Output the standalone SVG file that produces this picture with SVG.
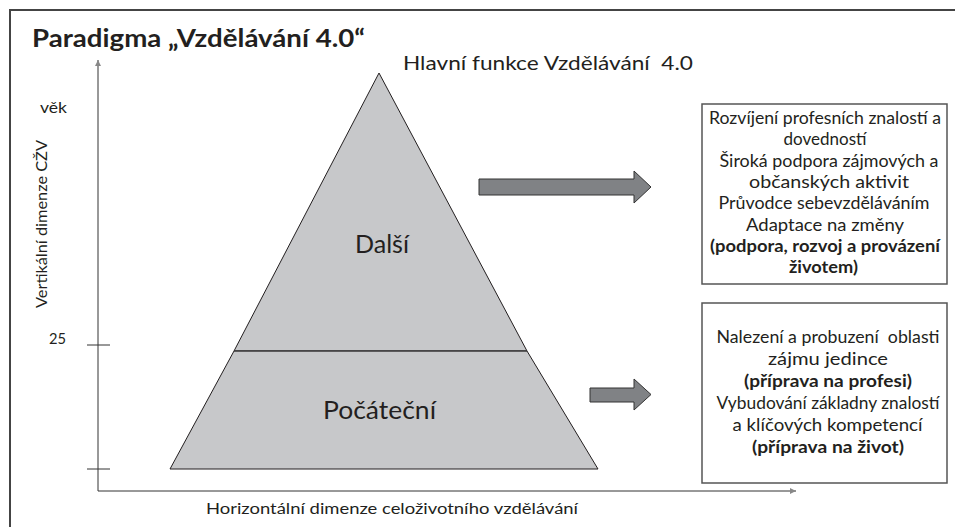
<svg xmlns="http://www.w3.org/2000/svg" width="955" height="527" viewBox="0 0 955 527">
<defs>
<style>
text{font-family:Lato,"Open Sans","Liberation Sans",sans-serif;fill:#231f20;white-space:pre}
.box{fill:#fff;stroke:#555;stroke-width:1.5}
.ax{stroke:#333;stroke-width:1;fill:none}
.arr{fill:#808285;stroke:#333;stroke-width:1}
.bt{font-size:16.5px;text-anchor:middle}
.b{font-weight:bold}
</style>
<marker id="ah" viewBox="0 0 10 10" refX="10" refY="5" markerWidth="8" markerHeight="6" orient="auto" markerUnits="userSpaceOnUse">
<path d="M0,0 L10,5 L0,10 z" fill="#888"/>
</marker>
</defs>
<rect width="955" height="527" fill="#fff"/>
<path d="M10,527 L10,10 L955,10" fill="none" stroke="#444" stroke-width="2"/>
<text x="32" y="47" font-size="24" font-weight="bold" textLength="333" lengthAdjust="spacingAndGlyphs">Paradigma „Vzdělávání 4.0“</text>
<text x="403" y="70" font-size="20" textLength="290" lengthAdjust="spacingAndGlyphs">Hlavní funkce Vzdělávání  4.0</text>

<g id="connectors">
<line class="ax" x1="98" y1="491" x2="98" y2="60" marker-end="url(#ah)"/>
<line class="ax" x1="98" y1="491" x2="796" y2="491" marker-end="url(#ah)"/>
<line class="ax" x1="87" y1="345" x2="110" y2="345"/>
<line class="ax" x1="87" y1="469" x2="110" y2="469"/>
<path class="arr" d="M479,179 L634,179 L634,171 L651,187 L634,203 L634,195 L479,195 z"/>
<path class="arr" d="M590,388 L634,388 L634,379 L651,394.5 L634,410 L634,402 L590,402 z"/>
</g>

<g id="axis-labels">
<text x="40" y="113" font-size="15.5" textLength="27" lengthAdjust="spacingAndGlyphs">věk</text>
<text x="49" y="344" font-size="15.5" textLength="17" lengthAdjust="spacingAndGlyphs">25</text>
<text transform="translate(46.5,224) rotate(-90)" x="-84" y="0" font-size="15.5" textLength="168" lengthAdjust="spacingAndGlyphs">Vertikální dimenze CŽV</text>
<text x="206" y="514" font-size="15.5" textLength="372" lengthAdjust="spacingAndGlyphs">Horizontální dimenze celoživotního vzdělávání</text>
</g>

<g id="pyramid-top">
<path d="M379,73 L527,351 L234,351 z" fill="#c7c8ca" stroke="#231f20" stroke-width="1"/>
<text x="355" y="253" font-size="25" textLength="54" lengthAdjust="spacingAndGlyphs">Další</text>
</g>
<g id="pyramid-bottom">
<path d="M234,351 L527,351 L598,469 L170,469 z" fill="#c7c8ca" stroke="#231f20" stroke-width="1"/>
<line x1="234" y1="351" x2="527" y2="351" stroke="#444" stroke-width="1"/>
<text x="323" y="419" font-size="25" textLength="113" lengthAdjust="spacingAndGlyphs">Počáteční</text>
</g>

<g id="box-upper">
<rect class="box" x="702" y="104" width="245" height="180"/>
<text class="bt" x="825" y="124" textLength="232" lengthAdjust="spacingAndGlyphs">Rozvíjení profesních znalostí a</text>
<text class="bt" x="825" y="145.3" textLength="83" lengthAdjust="spacingAndGlyphs">dovedností</text>
<text class="bt" x="829" y="166.6" textLength="219" lengthAdjust="spacingAndGlyphs">Široká podpora zájmových a</text>
<text class="bt" x="829" y="187.9" textLength="160" lengthAdjust="spacingAndGlyphs">občanských aktivit</text>
<text class="bt" x="824" y="209.2" textLength="211" lengthAdjust="spacingAndGlyphs">Průvodce sebevzděláváním</text>
<text class="bt" x="825" y="230.5" textLength="158" lengthAdjust="spacingAndGlyphs">Adaptace na změny</text>
<text class="bt b" x="825" y="251.8" textLength="230" lengthAdjust="spacingAndGlyphs">(podpora, rozvoj a provázení</text>
<text class="bt b" x="823.5" y="273.1" textLength="69" lengthAdjust="spacingAndGlyphs">životem)</text>
</g>

<g id="box-lower">
<rect class="box" x="702" y="303" width="245" height="180"/>
<text class="bt" x="828" y="343" textLength="223" lengthAdjust="spacingAndGlyphs">Nalezení a probuzení  oblasti</text>
<text class="bt" x="828" y="365" textLength="120" lengthAdjust="spacingAndGlyphs">zájmu jedince</text>
<text class="bt b" x="828" y="387" textLength="168" lengthAdjust="spacingAndGlyphs">(příprava na profesi)</text>
<text class="bt" x="828" y="409" textLength="223" lengthAdjust="spacingAndGlyphs">Vybudování základny znalostí</text>
<text class="bt" x="827.5" y="431" textLength="190" lengthAdjust="spacingAndGlyphs">a klíčových kompetencí</text>
<text class="bt b" x="828" y="453" textLength="152" lengthAdjust="spacingAndGlyphs">(příprava na život)</text>
</g>
</svg>
